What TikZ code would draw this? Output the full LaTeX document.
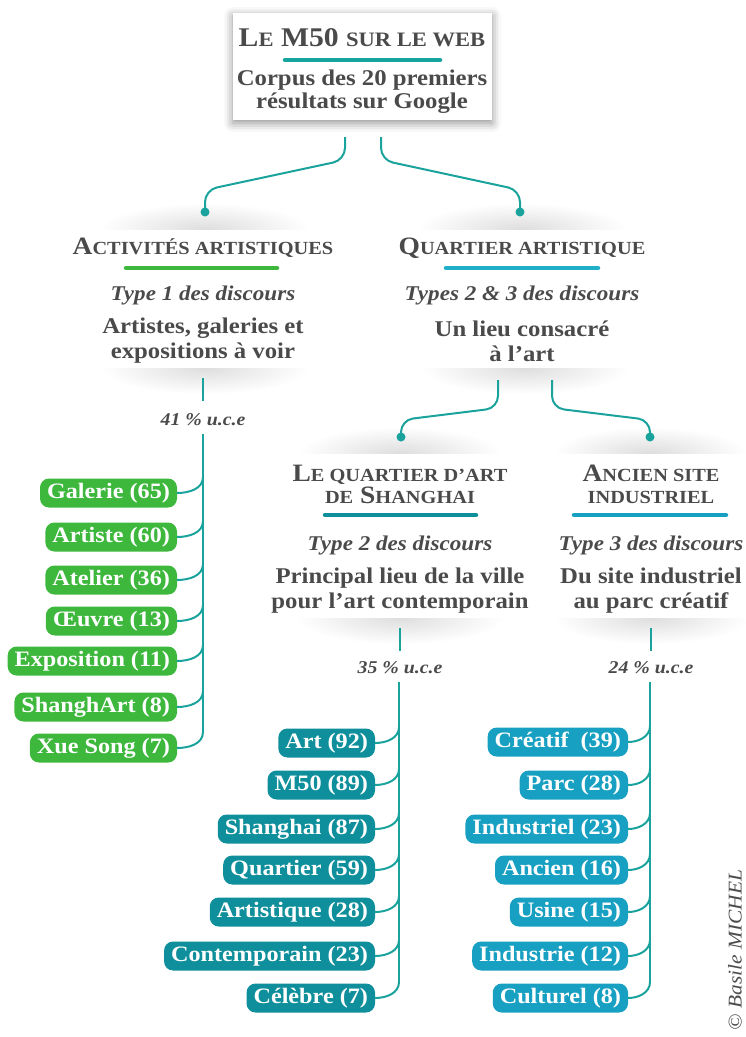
\documentclass[tikz,border=0pt]{standalone}
\usepackage{fontspec}
\setmainfont{Liberation Serif}[FakeStretch=1.1]
\usetikzlibrary{shadows.blur,calc}
\definecolor{txt}{HTML}{4A4A4A}
\definecolor{conn}{HTML}{1AA39C}
\definecolor{tgreen}{HTML}{3DB83D}
\definecolor{tteal}{HTML}{0F8F9B}
\definecolor{tblue}{HTML}{18A0C2}
\definecolor{bcyan}{HTML}{1FAFC9}
\definecolor{btop}{HTML}{15A59E}
\newcommand\smt[1]{{\fontsize{20.5}{24}\selectfont #1}}
\newcommand\smh[1]{{\fontsize{18.5}{20}\selectfont #1}}
\newcommand\upshade[4]{% x1, x2, center, base y : fades upward
  \begin{scope}
    \clip (#1,#4-26) rectangle (#2,#4);
    \shade[inner color=black!13, outer color=white] (#3,#4) ellipse ({(#2-#1)/2} and 26);
  \end{scope}}
\newcommand\downshade[4]{% x1, x2, center, top y : fades downward
  \begin{scope}
    \clip (#1,#4) rectangle (#2,#4+26);
    \shade[inner color=black!13, outer color=white] (#3,#4) ellipse ({(#2-#1)/2} and 26);
  \end{scope}}
\tikzset{
  tag/.style={fill=#1, text=white, font=\bfseries\fontsize{22}{24}\selectfont,
    rounded corners=9pt, minimum height=29pt, inner xsep=7pt, inner ysep=0pt,
    outer sep=0pt, anchor=east},
  cn/.style={draw=conn, line width=2pt},
  cdot/.style={circle, fill=conn, inner sep=0pt, minimum size=9pt},
  head/.style={text=txt, font=\bfseries\fontsize{25}{22}\selectfont, align=center},
  typ/.style={text=txt, font=\bfseries\itshape\fontsize{21}{24}\selectfont, align=center},
  body/.style={text=txt, font=\bfseries\fontsize{22.5}{25}\selectfont, align=center},
  pct/.style={text=txt, font=\bfseries\itshape\fontsize{18}{20}\selectfont},
  bar/.style={line width=4.5pt, line cap=round, draw=#1},
}
\begin{document}
\begin{tikzpicture}[x=1pt,y=-1pt]
\useasboundingbox (0,0) rectangle (746,1037);
% panel shadings
\upshade{100}{310}{205}{229}
\upshade{420}{630}{522}{229}
\downshade{100}{310}{205}{368}
\downshade{420}{630}{525}{368}
\upshade{300}{502}{400}{453}
\upshade{552}{746}{650}{453}
\downshade{298}{506}{400}{618}
\downshade{550}{746}{651}{618}

% top box
\node[fill=white, minimum width=259pt, minimum height=107pt, inner sep=0pt,
  blur shadow={shadow xshift=0pt, shadow yshift=-3pt, shadow blur radius=9pt, shadow opacity=45}]
  (top) at (362.5,66.5) {};
\node[text=txt, font=\bfseries\fontsize{27}{30}\selectfont] (ttl) at (362,38) {L\smt{E} M50 \smt{SUR LE WEB}};
\draw[bar=btop] (285,60) -- (440,60);
\node[body, font=\bfseries\fontsize{22.5}{23}\selectfont] (sub) at (362,92) {Corpus des 20 premiers\\résultats sur Google};

% level 2 headings
\node[head] (h1) at (203,248) {A\smh{CTIVITÉS ARTISTIQUES}};
\draw[bar=tgreen] (126,268) -- (277,268);
\node[typ] (t1) at (203,295) {Type 1 des discours};
\node[body] (b1) at (203,341) {Artistes, galeries et\\expositions à voir};

\node[head] (h2) at (522,248) {Q\smh{UARTIER ARTISTIQUE}};
\draw[bar=bcyan] (446,268) -- (598,268);
\node[typ] (t2) at (522,295) {Types 2 \& 3 des discours};
\node[body] (b2) at (522,341) {Un lieu consacré\\à l’art};

% level 3 headings
\node[head] (h3) at (400,484) {L\smh{E QUARTIER D’ART}\\\smh{DE} S\smh{HANGHAI}};
\draw[bar=tteal] (325,515) -- (476,515);
\node[typ] (t3) at (400,545) {Type 2 des discours};
\node[body] (b3) at (400,591) {Principal lieu de la ville\\pour l’art contemporain};

\node[head] (h4) at (651,484) {A\smh{NCIEN SITE}\\\smh{INDUSTRIEL}};
\draw[bar=tblue] (574,515) -- (726,515);
\node[typ] (t4) at (651,545) {Type 3 des discours};
\node[body] (b4) at (651,591) {Du site industriel\\au parc créatif};

% top split
\coordinate (s1) at (345,137);
\coordinate (s2) at (381,137);
\node[cdot] (d1) at (205,212) {};
\node[cdot] (d2) at (520,212) {};
\draw[cn, rounded corners=12pt] (s1) -- (345,160) -- (205,190) -- (d1.center);
\draw[cn, rounded corners=12pt] (s2) -- (381,160) -- (520,190) -- (d2.center);

% second split
\coordinate (s3) at (498,380);
\coordinate (s4) at (552,380);
\node[cdot] (d3) at (401,437) {};
\node[cdot] (d4) at (650,437) {};
\draw[cn, rounded corners=12pt] (s3) -- (498,408) -- (401,420) -- (d3.center);
\draw[cn, rounded corners=12pt] (s4) -- (552,408) -- (650,420) -- (d4.center);

% stems and percentages
\coordinate (st1) at (203,378); \coordinate (st1b) at (203,401);
\draw[cn] (st1) -- (st1b);
\node[pct] (p1) at (203,420) {41 \% u.c.e};
\coordinate (st3) at (400,628); \coordinate (st3b) at (400,651);
\draw[cn] (st3) -- (st3b);
\node[pct] (p3) at (400,668) {35 \% u.c.e};
\coordinate (st4) at (651,628); \coordinate (st4b) at (651,651);
\draw[cn] (st4) -- (st4b);
\node[pct] (p4) at (651,668) {24 \% u.c.e};

% green tags
\node[tag=tgreen] (g1) at (177,493) {Galerie (65)};
\node[tag=tgreen] (g2) at (177,537) {Artiste (60)};
\node[tag=tgreen] (g3) at (177,580) {Atelier (36)};
\node[tag=tgreen] (g4) at (177,621) {Œuvre (13)};
\node[tag=tgreen] (g5) at (177,661) {Exposition (11)};
\node[tag=tgreen] (g6) at (177,707) {ShanghArt (8)};
\node[tag=tgreen] (g7) at (177,748) {Xue Song (7)};
\draw[cn] (203,434) -- (203,732);
\foreach \n in {g1,g2,g3,g4,g5,g6,g7}
  \draw[cn] (\n.east) to[out=0,in=-90] ++(26,-16);

% teal tags
\node[tag=tteal] (m1) at (375,743) {Art (92)};
\node[tag=tteal] (m2) at (375,785) {M50 (89)};
\node[tag=tteal] (m3) at (375,829) {Shanghai (87)};
\node[tag=tteal] (m4) at (375,870) {Quartier (59)};
\node[tag=tteal] (m5) at (375,912) {Artistique (28)};
\node[tag=tteal] (m6) at (375,956) {Contemporain (23)};
\node[tag=tteal] (m7) at (375,998) {Célèbre (7)};
\draw[cn] (399,682) -- (399,982);
\foreach \n in {m1,m2,m3,m4,m5,m6,m7}
  \draw[cn] (\n.east) to[out=0,in=-90] ++(24,-16);

% blue tags
\node[tag=tblue] (r1) at (628,742) {Créatif~ (39)};
\node[tag=tblue] (r2) at (628,785) {Parc (28)};
\node[tag=tblue] (r3) at (628,829) {Industriel (23)};
\node[tag=tblue] (r4) at (628,870) {Ancien (16)};
\node[tag=tblue] (r5) at (628,912) {Usine (15)};
\node[tag=tblue] (r6) at (628,956) {Industrie (12)};
\node[tag=tblue] (r7) at (628,998) {Culturel (8)};
\draw[cn] (650,682) -- (650,982);
\foreach \n in {r1,r2,r3,r4,r5,r6,r7}
  \draw[cn] (\n.east) to[out=0,in=-90] ++(22,-16);

% copyright
\node[rotate=90, text=black!70, font=\itshape\fontsize{19.5}{22}\selectfont] (cp) at (735,950) {© Basile MICHEL};
\end{tikzpicture}
\end{document}
